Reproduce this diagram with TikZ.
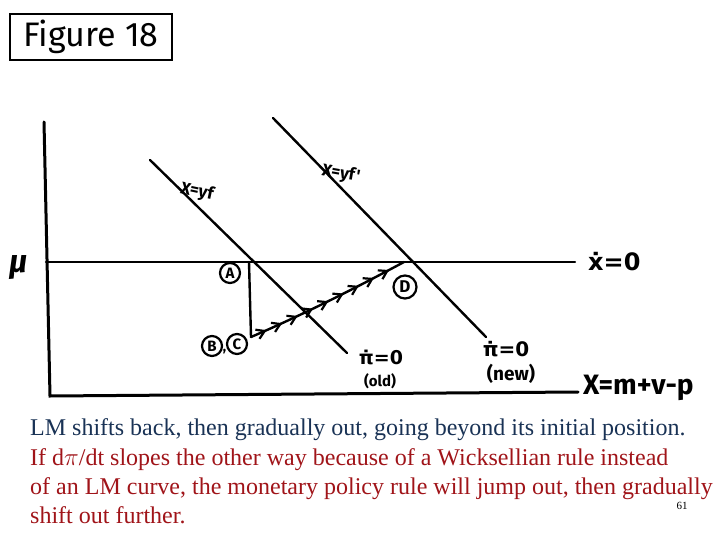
\documentclass[tikz,border=0pt]{standalone}
\usepackage{fontspec}
\setmainfont{Liberation Serif}
\newfontfamily\hand{Fira Sans}
\newfontfamily\dvs{DejaVu Sans}
\usetikzlibrary{decorations.markings,arrows.meta}
\definecolor{capnavy}{RGB}{25,50,85}
\definecolor{capred}{RGB}{160,20,25}
\begin{document}
\begin{tikzpicture}[x=1pt,y=-1pt,
  ink/.style={line width=3pt,line cap=round},
  thin/.style={line width=2.4pt,line cap=round},
  hw/.style={font=\hand\bfseries\fontsize{22}{22}\selectfont,inner sep=1pt},
  dotlab/.style={inner sep=1pt,font=\dvs\bfseries\fontsize{20}{20}\selectfont},
  circ/.style={circle,draw,line width=2.2pt,inner sep=0pt,minimum size=20pt,font=\hand\bfseries\fontsize{15}{15}\selectfont},
  captext/.style={anchor=base west,inner sep=0pt,font=\fontsize{24}{24}\selectfont}]
\useasboundingbox (0,0) rectangle (720,540);
% title box
\node[draw,line width=2.6pt,minimum width=162pt,minimum height=46pt,font=\hand\fontsize{34}{34}\selectfont] (title) at (91,37) {Figure 18};
% axes
\coordinate (ytop) at (44,122);
\coordinate (orig) at (50,396);
\coordinate (xend) at (578,392);
\draw[ink] (ytop) -- (orig) -- (xend);
\node[hw,anchor=west,font=\hand\bfseries\fontsize{28}{28}\selectfont] (xlab) at (582,388) {X=m+v-p};
\node[font=\hand\bfseries\itshape\fontsize{32}{32}\selectfont] (mu) at (19,268) {μ};
% horizontal line xdot = 0
\coordinate (hl) at (46,262);
\coordinate (hr) at (575,262);
\draw[thin] (hl) -- (hr);
\node[dotlab,anchor=west,font=\dvs\bfseries\fontsize{24}{24}\selectfont] (xdot) at (587,262) {ẋ=0};
% old line
\coordinate (o1) at (150,160);
\coordinate (o2) at (347,353);
\draw[thin] (o1) -- (o2);
\node[hw,rotate=-12,font=\hand\bfseries\fontsize{17}{17}\selectfont] (oldlab) at (197,192) {X=yf};
\node[dotlab,font=\dvs\bfseries\fontsize{19}{19}\selectfont] (pio) at (381,357) {π̇=0};
\node[inner sep=0pt,font=\hand\bfseries\fontsize{15}{15}\selectfont] (oldw) at (380,381) {(old)};
% new line
\coordinate (n1) at (273,118);
\coordinate (n2) at (486,337);
\draw[thin] (n1) -- (n2);
\node[hw,rotate=-10,font=\hand\bfseries\fontsize{17}{17}\selectfont] (newlab) at (341,174) {X=yf'};
\node[dotlab] (pin) at (506,349) {π̇=0};
\node[inner sep=0pt,font=\hand\bfseries\fontsize{19}{19}\selectfont] (neww) at (511,374) {(new)};
% points
\coordinate (A) at (249,262);
\coordinate (BCp) at (251,337);
\coordinate (Dp) at (404,262);
\draw[thin] (A) -- (BCp);
\node[circ] (Alab) at (230,273) {A};
\node[circ] (Blab) at (212,346) {B};
\node[circ] (Clab) at (237,344) {C};
\node[inner sep=0pt,font=\hand\bfseries\fontsize{14}{14}\selectfont] (comma) at (224.5,352) {,};
\node[circ,minimum size=23pt,font=\hand\bfseries\fontsize{17}{17}\selectfont] (Dlab) at (405,287) {D};
% arrow chain
\draw[thin,decoration={markings,
  mark=between positions 0.1 and 1 step 0.1 with {\arrow{Straight Barb[length=8pt,width=10pt,line width=2.2pt]}}},
  postaction={decorate}] (BCp) .. controls (300,316) and (352,290) .. (Dp);
% caption
\node[captext,text=capnavy] (c1) at (30,435) {LM shifts back, then gradually out, going beyond its initial position.};
\node[captext,text=capred] (c2) at (30,465) {If d$\pi$/dt slopes the other way because of a Wicksellian rule instead};
\node[captext,text=capred] (c3) at (30,494) {of an LM curve, the monetary policy rule will jump out, then gradually};
\node[captext,text=capred] (c4) at (30,523) {shift out further.};
\node[anchor=base,inner sep=0pt,font=\fontsize{11}{11}\selectfont] (pg) at (682,509) {61};
\end{tikzpicture}
\end{document}
